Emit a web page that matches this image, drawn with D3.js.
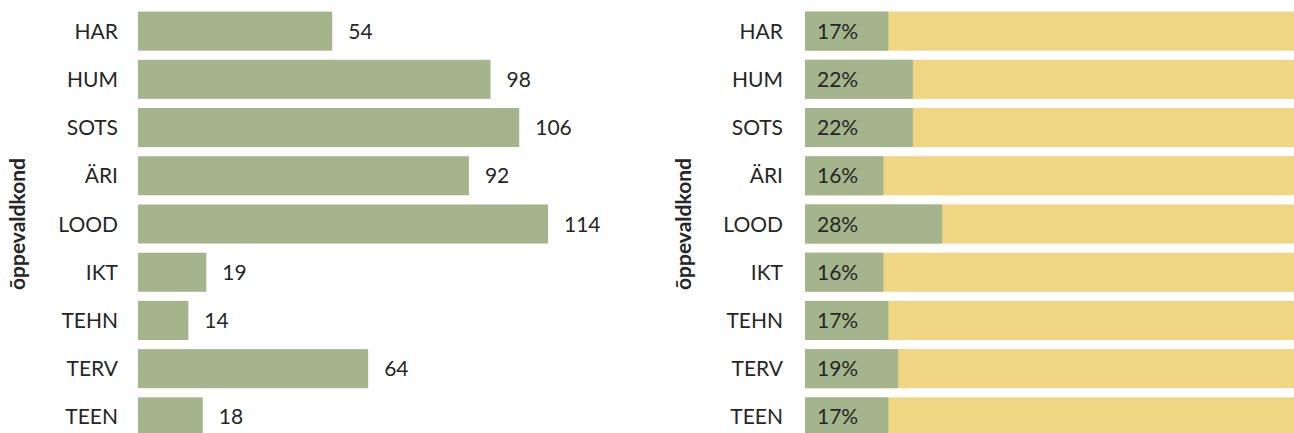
<!DOCTYPE html>
<html>
<head>
<meta charset="utf-8">
<script src="https://cdn.jsdelivr.net/npm/d3@7"></script>
<style>
  body { margin: 0; background: #fff; }
  text { font-family: Lato, "Open Sans", sans-serif; fill: #262626; }
</style>
</head>
<body>
<svg id="paper"></svg>
<script>
// chart data
const categories = ["HAR", "HUM", "SOTS", "ÄRI", "LOOD", "IKT", "TEHN", "TERV", "TEEN"];
const counts = [54, 98, 106, 92, 114, 19, 14, 64, 18];
const shares = [17, 22, 22, 16, 28, 16, 17, 19, 17];
const axisTitle = "õppevaldkond";

const green = "#a4b48c", yellow = "#f0d582";

const W = 1294, H = 433;
const svg = d3.select("#paper").attr("width", W).attr("height", H);

// shared vertical band scale
const y = d3.scaleBand()
    .domain(categories)
    .range([7, 441])
    .paddingInner(0.19)
    .paddingOuter(0.095);

// left panel: counts
const xL = d3.scaleLinear().domain([0, 114]).range([138, 548]);
const left = svg.append("g");

left.selectAll("rect")
    .data(categories)
    .enter().append("rect")
    .attr("x", xL(0))
    .attr("y", d => y(d))
    .attr("width", (d, i) => xL(counts[i]) - xL(0))
    .attr("height", y.bandwidth())
    .attr("fill", green);

left.selectAll(".val")
    .data(categories)
    .enter().append("text")
    .attr("class", "val")
    .attr("x", (d, i) => xL(counts[i]) + 16)
    .attr("y", d => y(d) + y.bandwidth() / 2)
    .attr("dy", ".36em")
    .style("font-size", "21px")
    .text((d, i) => counts[i]);

left.selectAll(".cat")
    .data(categories)
    .enter().append("text")
    .attr("class", "cat")
    .attr("x", 118)
    .attr("y", d => y(d) + y.bandwidth() / 2)
    .attr("dy", ".36em")
    .attr("text-anchor", "end")
    .style("font-size", "21px")
    .text(d => d);

left.append("text")
    .attr("transform", "translate(25,224) rotate(-90)")
    .attr("text-anchor", "middle")
    .style("font-size", "21px")
    .style("font-weight", "bold")
    .text(axisTitle);

// right panel: share of 100%
const xR = d3.scaleLinear().domain([0, 100]).range([805, 1295]);
const right = svg.append("g");

right.selectAll(".bg")
    .data(categories)
    .enter().append("rect")
    .attr("class", "bg")
    .attr("x", xR(0))
    .attr("y", d => y(d))
    .attr("width", xR(100) - xR(0))
    .attr("height", y.bandwidth())
    .attr("fill", yellow);

right.selectAll(".fg")
    .data(categories)
    .enter().append("rect")
    .attr("class", "fg")
    .attr("x", xR(0))
    .attr("y", d => y(d))
    .attr("width", (d, i) => xR(shares[i]) - xR(0))
    .attr("height", y.bandwidth())
    .attr("fill", green);

right.selectAll(".pct")
    .data(categories)
    .enter().append("text")
    .attr("class", "pct")
    .attr("x", xR(0) + 12)
    .attr("y", d => y(d) + y.bandwidth() / 2)
    .attr("dy", ".36em")
    .style("font-size", "21px")
    .text((d, i) => shares[i] + "%");

right.selectAll(".cat")
    .data(categories)
    .enter().append("text")
    .attr("class", "cat")
    .attr("x", 783)
    .attr("y", d => y(d) + y.bandwidth() / 2)
    .attr("dy", ".36em")
    .attr("text-anchor", "end")
    .style("font-size", "21px")
    .text(d => d);

right.append("text")
    .attr("transform", "translate(691,224) rotate(-90)")
    .attr("text-anchor", "middle")
    .style("font-size", "21px")
    .style("font-weight", "bold")
    .text(axisTitle);
</script>
</body>
</html>
